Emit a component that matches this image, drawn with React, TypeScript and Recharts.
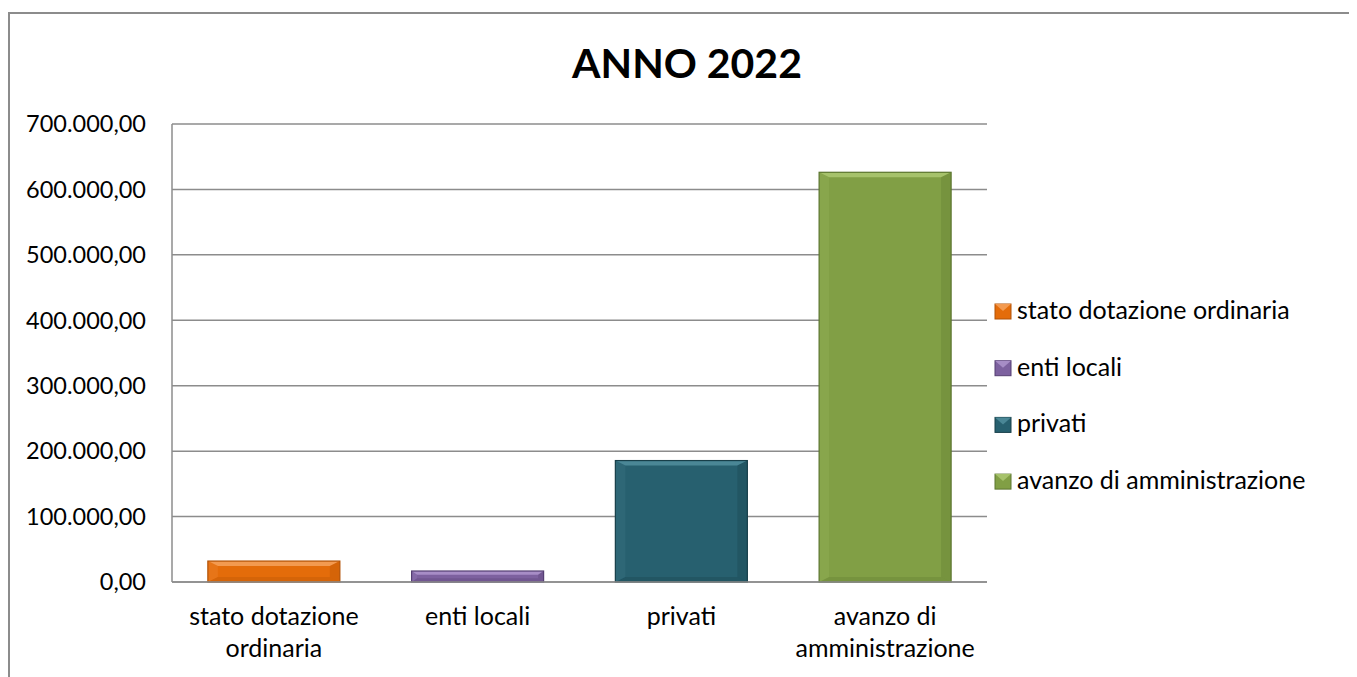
import React from "react";
import { BarChart, Bar, XAxis, YAxis, CartesianGrid, Cell } from "recharts";

const categories = ["stato dotazione ordinaria", "enti locali", "privati", "avanzo di amministrazione"];
const values = [32000, 16800, 185600, 626200];
const xTickLines = [["stato dotazione", "ordinaria"], ["enti locali"], ["privati"], ["avanzo di", "amministrazione"]];
const yTicks = [0, 100000, 200000, 300000, 400000, 500000, 600000, 700000];
const title = "ANNO 2022";

// base, light bevel, dark bevel
const palette = [
  { base: "#E46C0A", light: "#F39A50", dark: "#B25206" },
  { base: "#7D619F", light: "#A78DC6", dark: "#553F72" },
  { base: "#27606F", light: "#4A8796", dark: "#173F49" },
  { base: "#819F45", light: "#A6C26B", dark: "#5C7630" },
];

const FONT = "Lato, 'Open Sans', sans-serif";
const GRID = "#8c8c8c";

const data = categories.map((name, i) => ({ name, value: values[i], idx: i }));

const fmt = (v: number) => {
  const s = Math.round(v).toString().replace(/\B(?=(\d{3})+(?!\d))/g, ".");
  return s + ",00";
};

const BevelBar = (props: any) => {
  const { x, y, width, height, payload } = props;
  if (height <= 0) return null;
  const c = palette[payload.idx];
  const b = Math.min(10, width / 2, height / 2);
  const bv = Math.min(5, height / 3);
  const x2 = x + width;
  const y2 = y + height;
  return (
    <g>
      <rect x={x} y={y} width={width} height={height} fill={c.base} />
      <polygon points={`${x},${y} ${x2},${y} ${x2 - b},${y + bv} ${x + b},${y + bv}`} fill={c.light} />
      <polygon points={`${x},${y2} ${x2},${y2} ${x2 - b},${y2 - bv} ${x + b},${y2 - bv}`} fill={c.dark} opacity={0.3} />
      <polygon points={`${x},${y} ${x + b},${y + bv} ${x + b},${y2 - bv} ${x},${y2}`} fill={c.light} opacity={0.2} />
      <polygon points={`${x2},${y} ${x2 - b},${y + bv} ${x2 - b},${y2 - bv} ${x2},${y2}`} fill={c.dark} opacity={0.3} />
      <rect x={x} y={y} width={width} height={height} fill="none" stroke={c.dark} strokeWidth={1.2} />
    </g>
  );
};

const XTick = (props: any) => {
  const { x, y, index } = props;
  const lines = xTickLines[index] || [];
  return (
    <g>
      {lines.map((l, i) => (
        <text key={i} x={x} y={y + 43 + i * 32} textAnchor="middle" fill="#000" fontSize={25} fontFamily={FONT}>
          {l}
        </text>
      ))}
    </g>
  );
};

export default function App() {
  return (
    <div style={{ paddingTop: 4 }}>
      <div
        style={{
          position: "relative",
          width: 1347,
          height: 663,
          borderTop: `2px solid ${GRID}`,
          borderLeft: `2px solid ${GRID}`,
          fontFamily: FONT,
        }}
      >
        <BarChart
          width={1347}
          height={663}
          data={data}
          margin={{ top: 110, right: 370, bottom: 0, left: 0 }}
          barCategoryGap="17.6%"
        >
          <CartesianGrid vertical={false} stroke={GRID} strokeWidth={1.5} />
          <XAxis
            dataKey="name"
            height={95}
            tickLine={false}
            tickSize={0}
            tickMargin={0}
            axisLine={{ stroke: GRID, strokeWidth: 1.5 }}
            tick={<XTick />}
            interval={0}
          />
          <YAxis
            width={162}
            domain={[0, 700000]}
            ticks={yTicks}
            tickFormatter={fmt}
            tickLine={false}
            tickSize={0}
            tickMargin={26}
            axisLine={{ stroke: GRID, strokeWidth: 1.5 }}
            tick={{ fontSize: 23.5, fill: "#000", fontFamily: FONT }}
          />
          <Bar dataKey="value" isAnimationActive={false} shape={<BevelBar />}>
            {data.map((d) => (
              <Cell key={d.name} fill={palette[d.idx].base} />
            ))}
          </Bar>
        </BarChart>
        <svg
          width={1347}
          height={663}
          style={{ position: "absolute", left: 0, top: 0, pointerEvents: "none" }}
        >
          <text x={677} y={64} textAnchor="middle" fontSize={41} fontWeight={700} fontFamily={FONT} fill="#000">
            {title}
          </text>
          {categories.map((name, i) => {
            const base = 305 + i * 56.7;
            const c = palette[i];
            return (
              <g key={name}>
                <rect x={985} y={base - 15} width={16} height={15} fill={c.base} stroke={c.dark} strokeWidth={1} />
                <polygon points={`${985},${base - 15} ${1001},${base - 15} ${993},${base - 8}`} fill={c.light} />
                <text x={1007} y={base} fontSize={25} fontFamily={FONT} fill="#000">
                  {name}
                </text>
              </g>
            );
          })}
        </svg>
      </div>
    </div>
  );
}
